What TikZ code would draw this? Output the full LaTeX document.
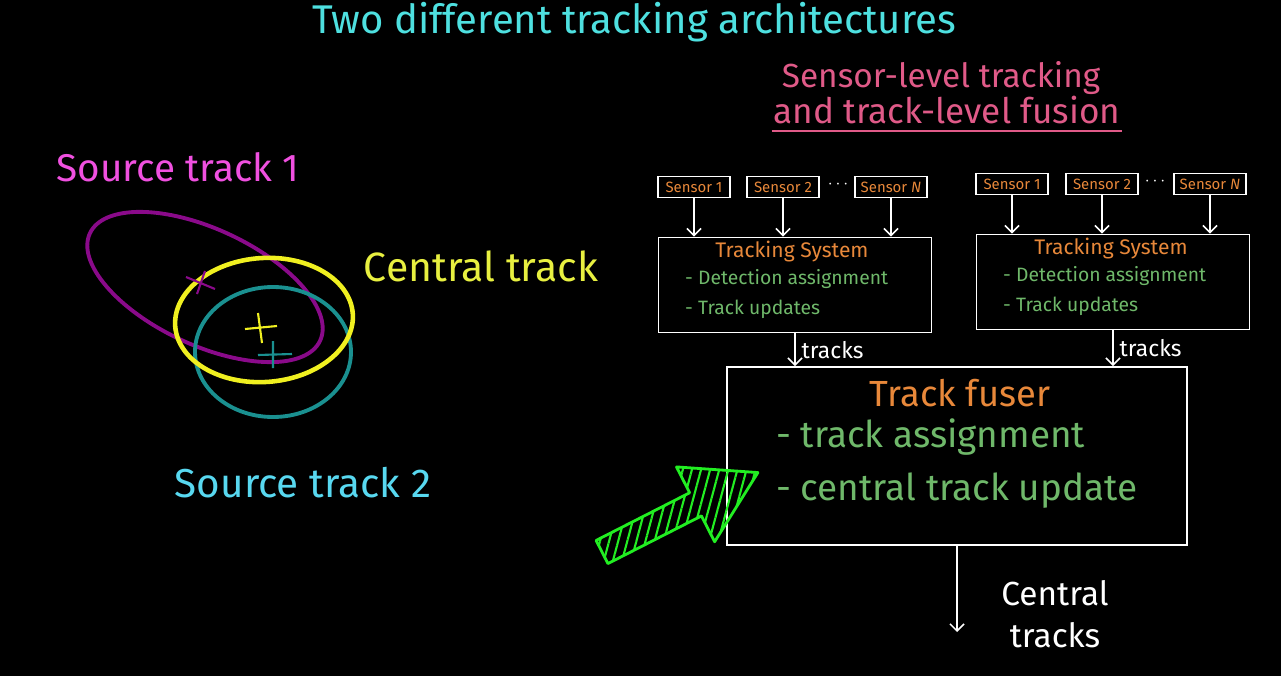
\documentclass[tikz,border=0pt]{standalone}
\usepackage{fontspec}
\setmainfont{Fira Sans}
\usetikzlibrary{positioning,calc}
\usetikzlibrary{arrows.meta,patterns.meta}

\definecolor{titlecyan}{HTML}{4EE0E0}
\definecolor{rose}{HTML}{E05A88}
\definecolor{magentaT}{HTML}{F050E0}
\definecolor{yellowT}{HTML}{E8F040}
\definecolor{cyanT}{HTML}{58D8F0}
\definecolor{purpleE}{HTML}{8A0A8A}
\definecolor{yellowE}{HTML}{F0F020}
\definecolor{tealE}{HTML}{1A9090}
\definecolor{orangeT}{HTML}{E8883A}
\definecolor{greenT}{HTML}{6FB86A}
\definecolor{greenA}{HTML}{22EE22}

\newcommand{\sz}[1]{\fontsize{#1}{#1}\selectfont}

\tikzstyle{sensor} = [rectangle, draw=white, line width=0.9pt, minimum width=1.45cm,
minimum height=0.42cm, inner sep=1pt, text=orangeT, font=\sz{8.5}]
\tikzstyle{system} = [rectangle, draw=white, line width=1pt, minimum width=5.46cm, minimum height=1.9cm]
\tikzstyle{fuser} = [rectangle, draw=white, line width=1.1pt, minimum width=9.2cm, minimum height=3.56cm]
\tikzstyle{heading} = [text=orangeT, font=\sz{12}]
\tikzstyle{item} = [anchor=west, text=greenT, font=\sz{11}]
\tikzstyle{bigitem} = [anchor=west, text=greenT, font=\sz{21}]
\tikzstyle{arrow} = [white, line width=0.9pt, ->, >={Straight Barb[length=4pt,width=8pt]}]

\begin{document}
\begin{tikzpicture}[x=0.02cm, y=-0.02cm]
\fill[black] (0,0) rectangle (1281,676);
\useasboundingbox (0,0) rectangle (1281,676);

% titles
\node (title) at (634,22) [text=titlecyan, font=\sz{22.8}] {Two different tracking architectures};
\node (sub1) at (941,78) [text=rose, font=\sz{19}] {Sensor-level tracking};
\node (sub2) at (947,110) [text=rose, font=\sz{20}, inner sep=1pt] {and track-level fusion};
\draw[rose, line width=1.2pt] ([yshift=-3pt]sub2.south west) -- ([yshift=-3pt]sub2.south east);

% tracks on the left
\draw[purpleE, line width=2.2pt, rotate around={-25:(205,287)}] (205,287) ellipse [x radius=127, y radius=58];
\draw[tealE, line width=2.2pt] (273,352) ellipse [x radius=78, y radius=65];
\draw[yellowE, line width=2.6pt, rotate around={4:(264,320)}] (264,320) ellipse [x radius=89, y radius=62];
\draw[purpleE, line width=1.2pt] (186,277) -- (215,289) (205,271) -- (197,294);
\draw[yellowE, line width=1.2pt] (245,329) -- (277,326) (258,313) -- (262,343);
\draw[tealE, line width=1.2pt] (258,355) -- (292,354) (273,341) -- (273,368);
\node (src1) at (178,167) [text=magentaT, font=\sz{22}] {Source track 1};
\node (central) at (481,266) [text=yellowT, font=\sz{23.3}] {Central track};
\node (src2) at (303,483) [text=cyanT, font=\sz{23}] {Source track 2};

% first sensor group
\node (s1a) at (694,187) [sensor] {Sensor 1};
\node (s2a) at (783,187) [sensor] {Sensor 2};
\node (dotsa) at (838,185) [text=white] {$\cdots$};
\node (sna) at (891,187) [sensor] {Sensor \textit{N}};
\node (tsa) at (795,285) [system] {};
\node (tita) at (792,252) [heading] {Tracking System};
\node (deta) at (679,279) [item] {- Detection assignment};
\node (upda) at (679,309) [item] {- Track updates};

% second sensor group
\node (s1b) at (1012,184) [sensor] {Sensor 1};
\node (s2b) at (1102,184) [sensor] {Sensor 2};
\node (dotsb) at (1155,182) [text=white] {$\cdots$};
\node (snb) at (1210,184) [sensor] {Sensor \textit{N}};
\node (tsb) at (1113,282) [system] {};
\node (titb) at (1111,249) [heading] {Tracking System};
\node (detb) at (997,276) [item] {- Detection assignment};
\node (updb) at (997,306) [item] {- Track updates};

% fuser
\node (fus) at (957,456) [fuser] {};
\node (fust) at (960,393) [text=orangeT, font=\sz{20.7}] {Track fuser};
\node (asg) at (770,437) [bigitem] {- track assignment};
\node (cup) at (770,491) [bigitem] {- central track update};
\coordinate (out) at (957,632);
\node (outl) at (1055,614) [text=white, font=\sz{19}, align=center, text depth=0pt] {Central\\[5pt]tracks};

\foreach \s in {s1a,s2a,sna}
  \draw[arrow] (\s) -- (\s |- tsa.north);
\foreach \s in {s1b,s2b,snb}
  \draw[arrow] (\s) -- (\s |- tsb.north);
\draw[arrow] (tsa) -- (tsa |- fus.north) node[midway, right, text=white, font=\sz{13}] (tra) {tracks};
\draw[arrow] (tsb) -- (tsb |- fus.north) node[midway, right, text=white, font=\sz{13}] (trb) {tracks};
\draw[arrow] (fus) -- (out);

% green arrow
\begin{scope}[shift={(602,552)}, rotate=27]
\draw[greenA, line width=1.6pt, line join=round,
  pattern={Lines[angle=75, distance=5pt, line width=1.2pt]}, pattern color=greenA]
  (0,-13) -- (105,-13) -- (105,-42) -- (175,0) -- (105,42) -- (105,13) -- (0,13) -- cycle;
\end{scope}
\end{tikzpicture}
\end{document}
